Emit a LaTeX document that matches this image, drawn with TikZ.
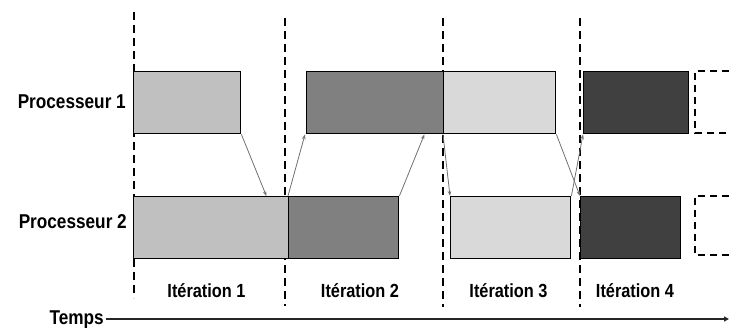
\documentclass[tikz,border=0pt]{standalone}
\usepackage{fontspec}
\newfontfamily\labfont{Liberation Sans}[FakeStretch=0.86]
\usetikzlibrary{arrows.meta}
\definecolor{tone1}{HTML}{C0C0C0}
\definecolor{tone2}{HTML}{808080}
\definecolor{tone3}{HTML}{D9D9D9}
\definecolor{tone4}{HTML}{404040}
\definecolor{msgline}{HTML}{707070}
\begin{document}
\begin{tikzpicture}[x=1pt,y=-1pt,
  procbox/.style={draw=black, line width=1.4pt, rectangle, inner sep=0pt,
    minimum height=62pt, anchor=north west},
  nextbox/.style={draw=black, line width=1.4pt, dash pattern=on 7pt off 5pt},
  sepline/.style={draw=black, line width=1.3pt, dash pattern=on 8pt off 5pt},
  msg/.style={draw=msgline, line width=0.8pt, -{Stealth[length=5pt,width=3.5pt]}},
  axis/.style={draw=black!85, line width=1.5pt, -{Triangle[length=5pt,width=5pt]}},
  rowlabel/.style={font=\labfont\bfseries\fontsize{20}{23}\selectfont, inner sep=0pt, anchor=base east},
  itlabel/.style={font=\labfont\bfseries\fontsize{19}{22}\selectfont, inner sep=0pt, anchor=base},
]
\useasboundingbox (0,0) rectangle (729,328);

% iteration boundaries
\draw[sepline] (134,12) -- (134,298);
\draw[sepline] (285,18) -- (285,306);
\draw[sepline] (443,18) -- (443,307);
\draw[sepline] (580,18) -- (580,307);

% processor labels
\node[rowlabel] (lp1) at (126,109) {Processeur 1};
\node[rowlabel] (lp2) at (127,229) {Processeur 2};

% processor 1 tasks
\node[procbox, fill=tone1, minimum width=107pt] (p1a) at (133,71) {};
\node[procbox, fill=tone2, minimum width=137pt] (p1b) at (306,71) {};
\node[procbox, fill=tone3, minimum width=112pt] (p1c) at (443,71) {};
\node[procbox, fill=tone4, minimum width=105pt] (p1d) at (583,71) {};
\draw[nextbox] (729,71) -- (695,71) -- (695,133) -- (729,133);

% processor 2 tasks
\node[procbox, fill=tone1, minimum width=155pt] (p2a) at (133,196) {};
\node[procbox, fill=tone2, minimum width=110pt] (p2b) at (288,196) {};
\node[procbox, fill=tone3, minimum width=120pt] (p2c) at (450,196) {};
\node[procbox, fill=tone4, minimum width=100pt] (p2d) at (580,196) {};
\draw[nextbox] (729,196) -- (695,196) -- (695,255) -- (729,255);

% data exchanges between processors
\draw[msg] (p1a.south east) -- ([xshift=-23pt]p2a.north east);
\draw[msg] (p2b.north west) -- ([xshift=-1pt]p1b.south west);
\draw[msg] (p2b.north east) -- ([xshift=-20pt]p1b.south east);
\draw[msg] (p1c.south west) -- (p2c.north west);
\draw[msg] (p1c.south east) -- (p2d.north west);
\draw[msg] (p2c.north east) -- (p1d.south west);

% iteration labels
\node[itlabel] (it1) at (206.5,298) {Itération 1};
\node[itlabel] (it2) at (360,298) {Itération 2};
\node[itlabel] (it3) at (508.5,298) {Itération 3};
\node[itlabel] (it4) at (635,298) {Itération 4};

% time axis
\node[rowlabel] (temps) at (104,325) {Temps};
\coordinate (tend) at (729,319);
\draw[axis] ([xshift=2pt]temps.east |- tend) -- (tend);
\end{tikzpicture}
\end{document}
